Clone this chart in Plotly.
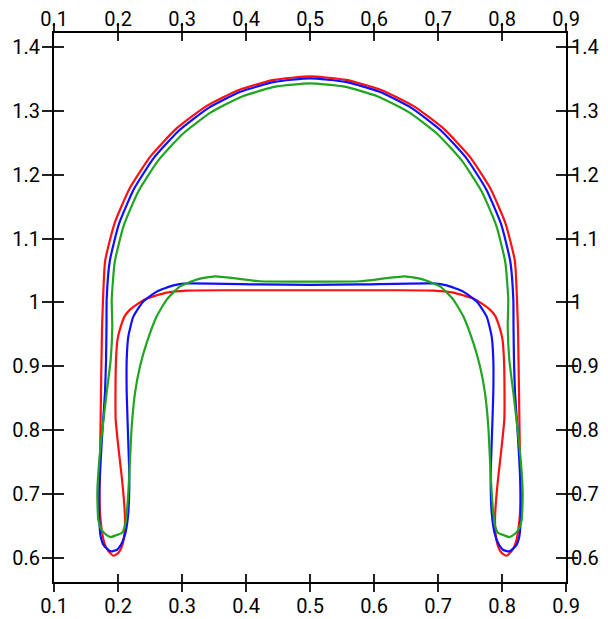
import plotly.graph_objects as go

X_TICKS = [0.1, 0.2, 0.3, 0.4, 0.5, 0.6, 0.7, 0.8, 0.9]
Y_TICKS = [0.6, 0.7, 0.8, 0.9, 1.0, 1.1, 1.2, 1.3, 1.4]
X_RANGE = [0.1, 0.9]
Y_RANGE = [0.562, 1.422]

red_x = [0.1927, 0.1844, 0.1781, 0.1745, 0.1719, 0.1711, 0.1719, 0.1727, 0.1734, 0.1750, 0.1766,
         0.1799, 0.1946, 0.2185, 0.2510, 0.2911, 0.3375, 0.3888, 0.4436, 0.5, 0.5564, 0.6112, 0.6625,
         0.7089, 0.7490, 0.7815, 0.8054, 0.8201, 0.8234,
         0.8250, 0.8266, 0.8273, 0.8281, 0.8289, 0.8281, 0.8255, 0.8219, 0.8156, 0.8073,
         0.7992, 0.7930, 0.7898, 0.7891, 0.7902, 0.7942, 0.7995, 0.8036, 0.8039, 0.8031, 0.8008,
         0.7958, 0.7891, 0.7812, 0.7687, 0.7552, 0.7406, 0.7239, 0.6927, 0.625,
         0.5,
         0.375, 0.3073, 0.2761, 0.2594, 0.2448, 0.2313, 0.2188, 0.2109, 0.2042, 0.1992, 0.1969,
         0.1961, 0.1964, 0.2005, 0.2058, 0.2098, 0.2109, 0.2102, 0.2070, 0.2008, 0.1927]
red_y = [0.6031, 0.6110, 0.6251, 0.6439, 0.6705, 0.7113, 0.7536, 0.8053, 0.8586, 0.9574, 1.0044,
         1.0651, 1.1239, 1.1792, 1.2291, 1.2721, 1.3071, 1.3328, 1.3486, 1.3539, 1.3486, 1.3328, 1.3071,
         1.2721, 1.2291, 1.1792, 1.1239, 1.0651, 1.0044,
         0.9574, 0.8586, 0.8053, 0.7536, 0.7113, 0.6705, 0.6439, 0.6251, 0.6110, 0.6031,
         0.6078, 0.6204, 0.6392, 0.6596, 0.6831, 0.7270, 0.7740, 0.8163, 0.8633, 0.9103, 0.9417,
         0.9621, 0.9793, 0.9887, 0.9981, 1.0060, 1.0107, 1.0154, 1.0185, 1.0190,
         1.0190,
         1.0190, 1.0185, 1.0154, 1.0107, 1.0060, 0.9981, 0.9887, 0.9793, 0.9621, 0.9417, 0.9103,
         0.8633, 0.8163, 0.7740, 0.7270, 0.6831, 0.6596, 0.6392, 0.6204, 0.6078, 0.6031]

blue_x = [0.1886, 0.1781, 0.1730, 0.1708, 0.1708, 0.1730, 0.1761, 0.1797, 0.1813, 0.1820, 0.1823,
          0.1871, 0.2015, 0.2249, 0.2566, 0.2958, 0.3411, 0.3913, 0.4448, 0.5, 0.5552, 0.6087, 0.6589,
          0.7042, 0.7434, 0.7751, 0.7985, 0.8129, 0.8177,
          0.8180, 0.8187, 0.8203, 0.8239, 0.8270, 0.8292, 0.8292, 0.8270, 0.8219, 0.8114,
          0.8016, 0.7937, 0.7883, 0.7839, 0.7823, 0.7839, 0.7864, 0.7864, 0.7839, 0.7761, 0.7605,
          0.7395, 0.7136, 0.6927, 0.5781,
          0.5,
          0.4219, 0.3073, 0.2864, 0.2605, 0.2395, 0.2239, 0.2161, 0.2136, 0.2136, 0.2161, 0.2177,
          0.2161, 0.2117, 0.2063, 0.1984, 0.1886]
blue_y = [0.6099, 0.6188, 0.6329, 0.6596, 0.7019, 0.7536, 0.8053, 0.8586, 0.9103, 0.9621, 1.0044,
          1.0645, 1.1229, 1.1776, 1.2271, 1.2697, 1.3044, 1.3299, 1.3455, 1.3508, 1.3455, 1.3299, 1.3044,
          1.2697, 1.2271, 1.1776, 1.1229, 1.0645, 1.0044,
          0.9621, 0.9103, 0.8586, 0.8053, 0.7536, 0.7019, 0.6596, 0.6329, 0.6188, 0.6099,
          0.6125, 0.6235, 0.6392, 0.6705, 0.7270, 0.7803, 0.8586, 0.9103, 0.9464, 0.9777, 1.0013,
          1.0169, 1.0266, 1.0298, 1.0282,
          1.0274,
          1.0282, 1.0298, 1.0266, 1.0169, 1.0013, 0.9777, 0.9464, 0.9103, 0.8586, 0.7803, 0.7270,
          0.6705, 0.6392, 0.6235, 0.6125, 0.6099]

green_x = [0.1886, 0.1797, 0.1734, 0.1692, 0.1677, 0.1708, 0.1761, 0.1823, 0.1886, 0.1911, 0.1902,
           0.1949, 0.2089, 0.2317, 0.2627, 0.3009, 0.3451, 0.3940, 0.4462, 0.5, 0.5538, 0.6060, 0.6549,
           0.6991, 0.7373, 0.7683, 0.7911, 0.8051, 0.8098,
           0.8089, 0.8114, 0.8177, 0.8239, 0.8292, 0.8323, 0.8308, 0.8266, 0.8203, 0.8114,
           0.8031, 0.7942, 0.7891, 0.7864, 0.7839, 0.7812, 0.7786, 0.7734, 0.7656, 0.7552, 0.7395,
           0.7239, 0.7031, 0.6770, 0.6484, 0.5781,
           0.5,
           0.4219, 0.3516, 0.3230, 0.2969, 0.2761, 0.2605, 0.2448, 0.2344, 0.2266, 0.2214, 0.2188,
           0.2161, 0.2136, 0.2109, 0.2058, 0.1969, 0.1886]
green_y = [0.6324, 0.6376, 0.6455, 0.6596, 0.7019, 0.7536, 0.8053, 0.8586, 0.9103, 0.9621, 1.0044,
           1.0632, 1.1202, 1.1737, 1.2221, 1.2638, 1.2976, 1.3226, 1.3379, 1.3430, 1.3379, 1.3226, 1.2976,
           1.2638, 1.2221, 1.1737, 1.1202, 1.0632, 1.0044,
           0.9621, 0.9103, 0.8586, 0.8053, 0.7536, 0.7019, 0.6596, 0.6455, 0.6376, 0.6324,
           0.6353, 0.6387, 0.6502, 0.6701, 0.7014, 0.7536, 0.8058, 0.8582, 0.8998, 0.9365, 0.9782,
           1.0044, 1.0252, 1.0357, 1.0409, 1.0331,
           1.0326,
           1.0331, 1.0409, 1.0357, 1.0252, 1.0044, 0.9782, 0.9365, 0.8998, 0.8582, 0.8058, 0.7536,
           0.7014, 0.6701, 0.6502, 0.6387, 0.6353, 0.6324]

SERIES = [
    ("red", red_x, red_y, "#ff1010"),
    ("blue", blue_x, blue_y, "#1010ff"),
    ("green", green_x, green_y, "#1fa51f"),
]

fig = go.Figure()
for name, xs, ys, col in SERIES:
    fig.add_trace(go.Scatter(x=xs, y=ys, mode="lines", name=name, hoverinfo="skip",
                             line=dict(color=col, width=2.2, shape="spline", smoothing=0.5)))

# invisible helper trace so the mirrored (top/right) axes get drawn
fig.add_trace(go.Scatter(x=X_RANGE, y=Y_RANGE, xaxis="x2", yaxis="y2", mode="markers",
                         marker=dict(opacity=0), hoverinfo="skip", showlegend=False))

font = dict(family="Roboto, sans-serif", size=20, color="black")
tick_style = dict(showgrid=False, zeroline=False, tickfont=font, tickcolor="#222",
                  tickwidth=1.5, automargin=False)

# the page body has an 8px margin: figure is 8px smaller, left/top margins reduced by 8
fig.update_layout(
    template="none",
    width=600, height=611,
    margin=dict(l=46, r=42, t=25, b=37),
    plot_bgcolor="white", paper_bgcolor="white",
    showlegend=False,
    xaxis=dict(range=X_RANGE, tickvals=X_TICKS, ticks="outside", ticklen=8, mirror="allticks",
               showline=True, linecolor="black", linewidth=2, ticklabelstandoff=-3, **tick_style),
    xaxis2=dict(range=X_RANGE, tickvals=X_TICKS, overlaying="x", side="top", anchor="y",
                ticks="inside", ticklen=8, mirror="allticks", showline=False,
                ticklabelstandoff=2, **tick_style),
    yaxis=dict(range=Y_RANGE, tickvals=Y_TICKS, ticks="outside", ticklen=10, mirror="allticks",
               showline=True, linecolor="black", linewidth=2, ticklabelstandoff=-2, **tick_style),
    yaxis2=dict(range=Y_RANGE, tickvals=Y_TICKS, overlaying="y", side="right", anchor="x",
                ticks="inside", ticklen=10, mirror="allticks", showline=False,
                ticklabelstandoff=4, **tick_style),
)

fig.write_html("out.html")
